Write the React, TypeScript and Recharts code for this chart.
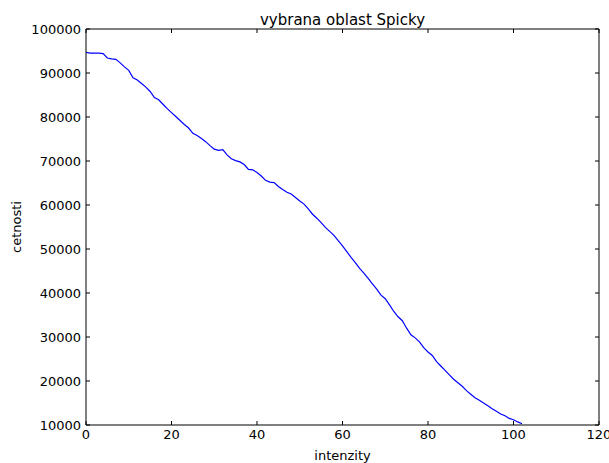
import { Label, Line, LineChart, XAxis, YAxis } from "recharts";

/* Histogram cetnosti pro vybranou oblast, matplotlib "classic" vzhled. */

const INTENZITY = Array.from({ length: 103 }, (_, i) => i);

const CETNOSTI = [
  94700, 94500, 94500, 94500, 94400, 93400, 93200, 93100, 92300, 91400,
  90600, 88900, 88400, 87600, 86800, 85800, 84400, 83900, 82900, 81900,
  81000, 80100, 79200, 78300, 77500, 76300, 75800, 75100, 74400, 73500,
  72700, 72400, 72600, 71400, 70500, 70100, 69800, 69200, 68100, 68000,
  67400, 66600, 65600, 65200, 65100, 64200, 63500, 62900, 62500, 61700,
  60900, 60200, 59100, 57900, 57000, 56000, 54900, 54000, 53100, 51900,
  50700, 49400, 48100, 46900, 45600, 44500, 43300, 42100, 40900, 39500,
  38700, 37300, 35800, 34600, 33700, 32000, 30500, 29800, 28900, 27600,
  26600, 25800, 24400, 23400, 22400, 21400, 20400, 19600, 18800, 17800,
  17000, 16200, 15600, 15000, 14400, 13700, 13100, 12500, 12100, 11500,
  11200, 10700, 10300,
];

const X_TICKS = [0, 20, 40, 60, 80, 100, 120];
const Y_TICKS = [10000, 20000, 30000, 40000, 50000, 60000, 70000, 80000, 90000, 100000];

const TITLE = "vybrana oblast Spicky";
const X_LABEL = "intenzity";
const Y_LABEL = "cetnosti";

const data = INTENZITY.map((x, i) => ({ x, y: CETNOSTI[i] }));

const BLACK = "#000000";
const FONT = '"DejaVu Sans", sans-serif';
const TICK = { fill: BLACK, fontSize: 13, fontFamily: FONT } as const;
const blank = () => "";

export default function App() {
  return (
    <div
      style={{
        position: "absolute",
        left: 0,
        top: 0,
        width: 609,
        height: 463,
        background: "#ffffff",
        fontFamily: FONT,
        overflow: "hidden",
      }}
    >
      <div
        style={{
          position: "absolute",
          left: 86,
          width: 513,
          top: 11,
          textAlign: "center",
          fontSize: 15,
          color: BLACK,
        }}
      >
        {TITLE}
      </div>
      <LineChart
        width={609}
        height={463}
        data={data}
        margin={{ top: 29, right: 10, bottom: 0, left: 0 }}
      >
        <XAxis
          dataKey="x"
          type="number"
          domain={[0, 120]}
          ticks={X_TICKS}
          allowDataOverflow
          tick={TICK}
          tickLine={false}
          tickSize={3}
          tickMargin={2}
          height={38}
          stroke={BLACK}
        >
          <Label
            value={X_LABEL}
            position="insideBottom"
            offset={3}
            style={{ fill: BLACK, fontSize: 13, fontFamily: FONT }}
          />
        </XAxis>
        <XAxis
          xAxisId="bottomTicks"
          dataKey="x"
          type="number"
          domain={[0, 120]}
          ticks={X_TICKS}
          allowDataOverflow
          orientation="bottom"
          mirror
          axisLine={false}
          tickSize={4}
          tickFormatter={blank}
          stroke={BLACK}
        />
        <XAxis
          xAxisId="top"
          dataKey="x"
          type="number"
          domain={[0, 120]}
          ticks={X_TICKS}
          allowDataOverflow
          orientation="top"
          mirror
          tickSize={4}
          tickFormatter={blank}
          stroke={BLACK}
        />
        <YAxis
          type="number"
          domain={[10000, 100000]}
          ticks={Y_TICKS}
          allowDataOverflow
          tick={TICK}
          tickLine={false}
          tickSize={4}
          tickMargin={1}
          width={86}
          stroke={BLACK}
        >
          <Label
            value={Y_LABEL}
            angle={-90}
            position="insideLeft"
            offset={16}
            style={{ fill: BLACK, fontSize: 13, fontFamily: FONT, textAnchor: "middle" }}
          />
        </YAxis>
        <YAxis
          yAxisId="leftTicks"
          type="number"
          domain={[10000, 100000]}
          ticks={Y_TICKS}
          allowDataOverflow
          orientation="left"
          mirror
          axisLine={false}
          tickSize={4}
          tickFormatter={blank}
          stroke={BLACK}
        />
        <YAxis
          yAxisId="right"
          type="number"
          domain={[10000, 100000]}
          ticks={Y_TICKS}
          allowDataOverflow
          orientation="right"
          mirror
          tickSize={4}
          tickFormatter={blank}
          stroke={BLACK}
        />
        <Line
          dataKey="y"
          type="linear"
          stroke="#0000ff"
          strokeWidth={1.2}
          dot={false}
          activeDot={false}
          isAnimationActive={false}
        />
      </LineChart>
    </div>
  );
}
